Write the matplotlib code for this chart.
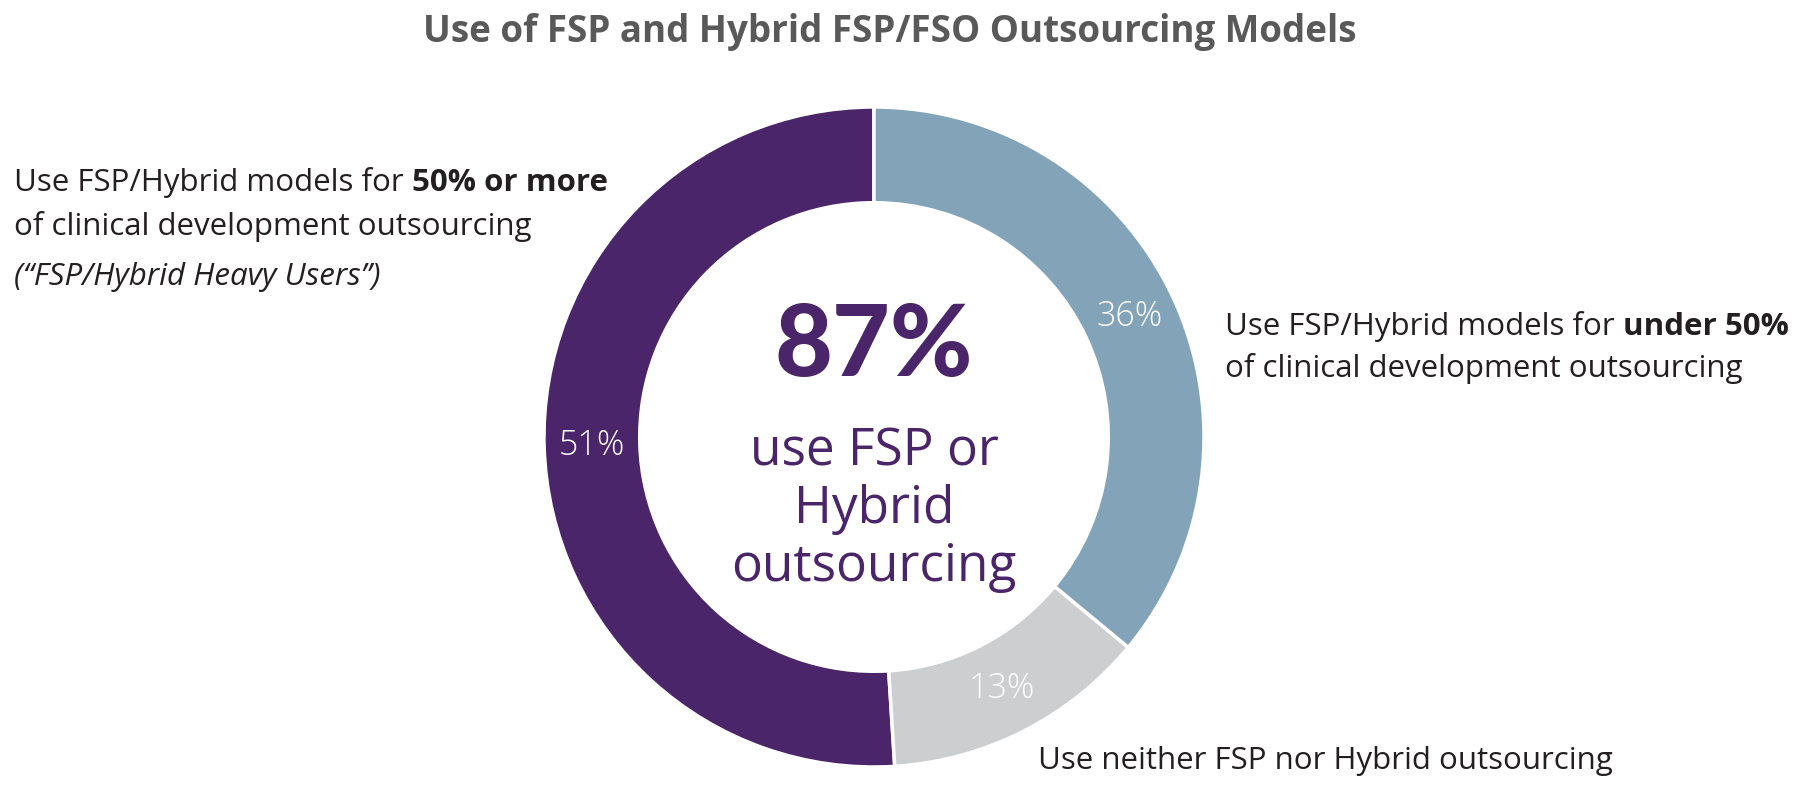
import matplotlib
matplotlib.use("Agg")
import matplotlib.pyplot as plt

plt.rcParams["font.family"] = ["Open Sans", "DejaVu Sans"]

segments = ["FSP/Hybrid Heavy Users", "Neither", "FSP/Hybrid under 50%"]
shares = [51, 13, 36]
colors = ["#4a2569", "#cdced0", "#82a3b8"]

title = "Use of FSP and Hybrid FSP/FSO Outsourcing Models"
center_big = "87%"
center_small = "use FSP or\nHybrid\noutsourcing"

W, H = 1795, 787
fig = plt.figure(figsize=(W / 100, H / 100), dpi=100)
fig.patch.set_facecolor("white")

# donut: center (874, 437) px, radius 330 px
cx, cy, r = 874, 437, 330
ax = fig.add_axes([(cx - r) / W, (H - cy - r) / H, 2 * r / W, 2 * r / H])
wedges, texts, autotexts = ax.pie(
    shares, colors=colors, startangle=90, counterclock=True,
    autopct="%d%%", pctdistance=0.855,
    wedgeprops=dict(width=0.29, edgecolor="white", linewidth=2.5),
    textprops=dict(color="white", fontsize=24.5, fontweight="light"),
)
ax.set_xlim(-1, 1)
ax.set_ylim(-1, 1)
ax.set_aspect("equal")
ax.axis("off")

purple = "#4a2569"
ax.text(0, 0.27, center_big, ha="center", va="center", fontsize=72,
        fontweight="black", color=purple, family=["Lato", "DejaVu Sans"])
ax.text(0, -0.22, center_small, ha="center", va="center", fontsize=37,
        color=purple, linespacing=1.17)

fig.text(890 / W, 1 - 32 / H, title, ha="center", va="center",
         fontsize=26.5, fontweight="bold", color="#595959")

renderer = fig.canvas.get_renderer()
txt_color = "#231f20"
fs = 22.5


def mixed_line(x_px, y_px, parts):
    x = x_px
    for s, weight in parts:
        t = fig.text(x / W, 1 - y_px / H, s, ha="left", va="center",
                     fontsize=fs, fontweight=weight, color=txt_color)
        bb = t.get_window_extent(renderer=renderer)
        x += bb.width


mixed_line(14, 183, [("Use FSP/Hybrid models for ", "normal"), ("50% or more", "bold")])
mixed_line(14, 226, [("of clinical development outsourcing", "normal")])
fig.text(14 / W, 1 - 277 / H, "(\u201cFSP/Hybrid Heavy Users\u201d)", ha="left",
         va="center", fontsize=fs, style="italic", color=txt_color)

mixed_line(1225, 327, [("Use FSP/Hybrid models for ", "normal"), ("under 50%", "bold")])
mixed_line(1225, 368, [("of clinical development outsourcing", "normal")])

mixed_line(1038, 761, [("Use neither FSP nor Hybrid outsourcing", "normal")])

fig.savefig("out.png", dpi=100, facecolor="white")
